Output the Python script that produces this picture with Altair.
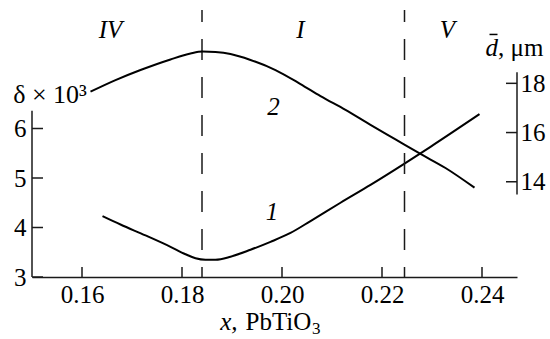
import altair as alt
import pandas as pd

# Composition x (mole fraction of PbTiO3) and the two measured quantities
x_delta = [0.1641, 0.1677, 0.1727, 0.1777, 0.1807, 0.1827, 0.1847, 0.1867,
           0.1897, 0.1937, 0.1977, 0.2017, 0.2057, 0.2117, 0.2177, 0.2245,
           0.2297, 0.2395]
delta = [4.23, 4.06, 3.84, 3.61, 3.46, 3.38, 3.35, 3.35,
         3.41, 3.55, 3.71, 3.89, 4.13, 4.50, 4.86, 5.29,
         5.63, 6.29]

x_grain = [0.1617, 0.1667, 0.1717, 0.1777, 0.1817, 0.1841, 0.1867, 0.1897,
           0.1937, 0.1987, 0.2037, 0.2077, 0.2127, 0.2177, 0.2227, 0.2277,
           0.2327, 0.2385]
grain = [17.66, 18.13, 18.54, 18.97, 19.21, 19.29, 19.27, 19.19,
         18.95, 18.54, 17.97, 17.48, 16.92, 16.31, 15.72, 15.13,
         14.56, 13.76]

# Phase boundaries and region names
boundaries = [0.184, 0.2245]
regions = ["IV", "I", "V"]
region_x = [0.1657, 0.2037, 0.2331]

x_ticks = [0.16, 0.18, 0.20, 0.22, 0.24]
left_ticks = [3, 4, 5, 6]
right_ticks = [14, 16, 18]

W, H = 485, 267
FONT = "Times New Roman, Liberation Serif, serif"
INK = "#1a1a1a"
FS = 25

xs = alt.Scale(domain=[0.15, 0.247], nice=False, zero=False)
ys_left = alt.Scale(domain=[3, 8.394], nice=False, zero=False)
ys_right = alt.Scale(domain=[10.13, 20.98], nice=False, zero=False)

x_axis = alt.Axis(values=x_ticks, format=".2f", title=None, grid=False,
                  domain=True, domainColor=INK, domainWidth=1.5, ticks=False,
                  labelFont=FONT, labelFontSize=FS, labelColor="black",
                  labelPadding=5, orient="bottom")
left_axis = alt.Axis(values=left_ticks, title=None, grid=False, domain=False,
                     ticks=False, labelFont=FONT, labelFontSize=FS,
                     labelColor="black", labelPadding=6, orient="left")
right_axis = alt.Axis(values=right_ticks, title=None, grid=False, domain=False,
                      ticks=False, labelFont=FONT, labelFontSize=FS,
                      labelColor="black", labelPadding=3, orient="right")


def X(field):
    return alt.X(field, scale=xs, axis=x_axis)


def YL(field):
    return alt.Y(field, scale=ys_left, axis=left_axis)


def YR(field):
    return alt.Y(field, scale=ys_right, axis=right_axis)


df_delta = pd.DataFrame({"x": x_delta, "v": delta})
df_grain = pd.DataFrame({"x": x_grain, "v": grain})

# ---- left-scale layer: loss tangent curve and its axis ----
curve1 = alt.Chart(df_delta).mark_line(
    color="black", strokeWidth=2, interpolate="monotone"
).encode(x=X("x:Q"), y=YL("v:Q"))

left_spine = alt.Chart(pd.DataFrame({"lo": [3], "hi": [6.36]})).mark_rule(
    color=INK, strokeWidth=1.5
).encode(x=alt.value(0), y=YL("lo:Q"), y2="hi:Q")

left_tick_marks = alt.Chart(pd.DataFrame({"v": left_ticks})).mark_rule(
    color=INK, strokeWidth=1.5
).encode(y=YL("v:Q"), x=alt.value(0), x2=alt.value(11))

x_tick_marks = alt.Chart(pd.DataFrame({"t": x_ticks})).mark_rule(
    color=INK, strokeWidth=1.5
).encode(x=X("t:Q"), y=alt.value(H), y2=alt.value(H - 10))

bounds = alt.Chart(pd.DataFrame({"b": boundaries})).mark_rule(
    color=INK, strokeWidth=1.5, strokeDash=[21, 17], strokeDashOffset=9
).encode(x=X("b:Q"))


def label_layer(xv, yv, texts, size=FS, italic=False, align="center", dy=0):
    mark_kw = dict(font=FONT, fontSize=size, color="black", align=align)
    if italic:
        mark_kw["fontStyle"] = "italic"
    if dy:
        mark_kw["dy"] = dy
    return alt.Chart(pd.DataFrame({"x": xv, "y": yv, "t": texts})).mark_text(
        **mark_kw
    ).encode(x=X("x:Q"), y=YL("y:Q"), text="t:N")


region_labels = label_layer(region_x, [7.98] * 3, regions, italic=True)
curve_labels = label_layer([0.1980, 0.1983], [4.31, 6.43], ["1", "2"], italic=True)
delta_title = label_layer([0.1536], [6.67], ["δ × 10³"], size=26)

# right title: italic d with an overbar, then ", μm"
grain_d = label_layer([0.2407], [7.62], ["d"], italic=True, align="left")
grain_unit = label_layer([0.2432], [7.62], [", μm"], align="left")
grain_bar = alt.Chart(pd.DataFrame({"a": [0.2415], "b": [0.2431], "y": [7.90]})).mark_rule(
    color="black", strokeWidth=1.5
).encode(x=X("a:Q"), x2="b:Q", y=YL("y:Q"))

# x-axis title: italic "x," then "PbTiO" with a lowered "3"
xt_x = label_layer([0.1911], [2.09], ["x,"], italic=True, align="right")
xt_formula = label_layer([0.1927], [2.09], ["PbTiO"], align="left")
xt_sub = label_layer([0.2060], [2.09], ["3"], size=17, align="left", dy=7)

left_layer = alt.layer(curve1, left_spine, left_tick_marks, x_tick_marks, bounds,
                       region_labels, curve_labels, delta_title,
                       grain_d, grain_unit, grain_bar,
                       xt_x, xt_formula, xt_sub)

# ---- right-scale layer: mean grain size curve and its axis ----
curve2 = alt.Chart(df_grain).mark_line(
    color="black", strokeWidth=2, interpolate="monotone"
).encode(x=X("x:Q"), y=YR("v:Q"))

right_spine = alt.Chart(pd.DataFrame({"lo": [13.48], "hi": [18.45]})).mark_rule(
    color=INK, strokeWidth=1.5
).encode(x=alt.value(W), y=YR("lo:Q"), y2="hi:Q")

right_tick_marks = alt.Chart(pd.DataFrame({"v": right_ticks})).mark_rule(
    color=INK, strokeWidth=1.5
).encode(y=YR("v:Q"), x=alt.value(W), x2=alt.value(W - 11))

right_layer = alt.layer(curve2, right_spine, right_tick_marks)

chart = alt.layer(left_layer, right_layer).resolve_scale(y="independent").properties(
    width=W,
    height=H,
    autosize=alt.AutoSizeParams(type="none"),
    padding={"left": 32, "top": 10, "right": 33, "bottom": 62},
    background="white",
).configure_view(stroke=None)

chart.save("out.html", embed_options={"renderer": "svg", "actions": False})
